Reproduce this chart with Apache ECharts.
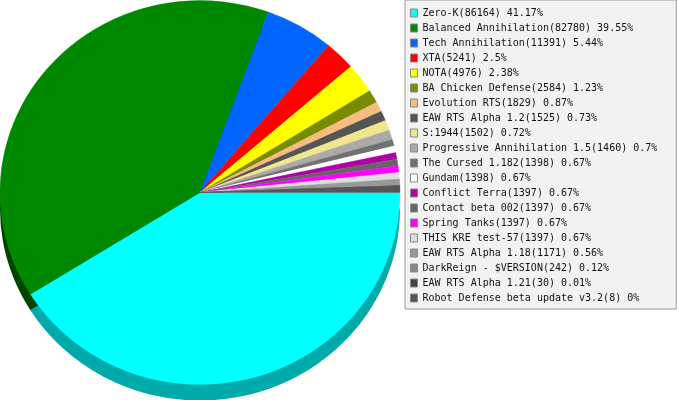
<!DOCTYPE html>
<html><head><meta charset="utf-8">
<style>html,body{margin:0;padding:0;background:#fff}#c{width:677px;height:400px}</style>
<script src="https://cdn.jsdelivr.net/npm/echarts@6/dist/echarts.min.js"></script>
</head><body><div id="c"></div>
<script>
const names = ["Zero-K","Balanced Annihilation","Tech Annihilation","XTA","NOTA","BA Chicken Defense","Evolution RTS","EAW RTS Alpha 1.2","S:1944","Progressive Annihilation 1.5","The Cursed 1.182","Gundam","Conflict Terra","Contact beta 002","Spring Tanks","THIS KRE test-57","EAW RTS Alpha 1.18","DarkReign - $VERSION","EAW RTS Alpha 1.21","Robot Defense beta update v3.2"];
const values = [86164,82780,11391,5241,4976,2584,1829,1525,1502,1460,1398,1398,1397,1397,1397,1397,1171,242,30,8];
const percents = ["41.17","39.55","5.44","2.5","2.38","1.23","0.87","0.73","0.72","0.7","0.67","0.67","0.67","0.67","0.67","0.67","0.56","0.12","0.01","0"];
const colors = ["#00ffff","#008800","#0066ff","#ff0000","#ffff00","#778c00","#f6bc82","#555555","#f0e68c","#aaaaaa","#717171","#ffffff","#b000a8","#666666","#ff00ff","#dddddd","#999999","#888888","#444444","#555555"];
const wallColors = ["#00aaaa","#004400"];

// The reference rounds each slice to whole degrees; the last slice closes the circle.
const total = values.reduce((a,b)=>a+b,0);
const rad = Math.PI/180;
let acc = 0;
const spans = values.map((v,i)=>{
  const s = acc;
  acc += Math.round(v/total*360);
  return [s*rad, (i===values.length-1 ? 360 : acc)*rad];
});
const cx=200, cy=192.5, rx=200, ry=192, depth=16;
function slice(span,color,dy,stroke){
  return {type:'sector',x:cx,y:cy+dy,scaleY:ry/rx,silent:true,
    shape:{cx:0,cy:0,r:rx,r0:0,startAngle:span[0],endAngle:span[1],clockwise:true},
    style:{fill:color,stroke:stroke?color:null,lineWidth:stroke?0.4:0}};
}
const series=[];
wallColors.forEach((c,i)=>series.push({type:'custom',coordinateSystem:'none',name:'wall'+i,silent:true,z:1,data:[[values[i]]],
  renderItem:()=>slice(spans[i],c,depth,false)}));
names.forEach((n,i)=>series.push({type:'custom',coordinateSystem:'none',name:n,silent:true,z:2,data:[[values[i]]],
  itemStyle:{color:colors[i]},
  renderItem:()=>slice(spans[i],colors[i],0,true)}));

const chart=echarts.init(document.getElementById('c'),null,{renderer:'canvas'});
chart.setOption({
  animation:false,backgroundColor:'#ffffff',
  legend:{data:names,orient:'vertical',left:405,top:0,padding:[8,19,6,5],
    backgroundColor:'#f2f2f2',borderColor:'#999999',borderWidth:1,
    icon:'rect',itemWidth:7,itemHeight:8,itemGap:5,selectedMode:false,
    itemStyle:{borderColor:'#888888',borderWidth:1},
    textStyle:{fontFamily:'DejaVu Sans Mono',fontSize:10,color:'#111111'},
    formatter:n=>{const i=names.indexOf(n);return n+'('+values[i]+') '+percents[i]+'%';}},
  series
});
</script></body></html>
